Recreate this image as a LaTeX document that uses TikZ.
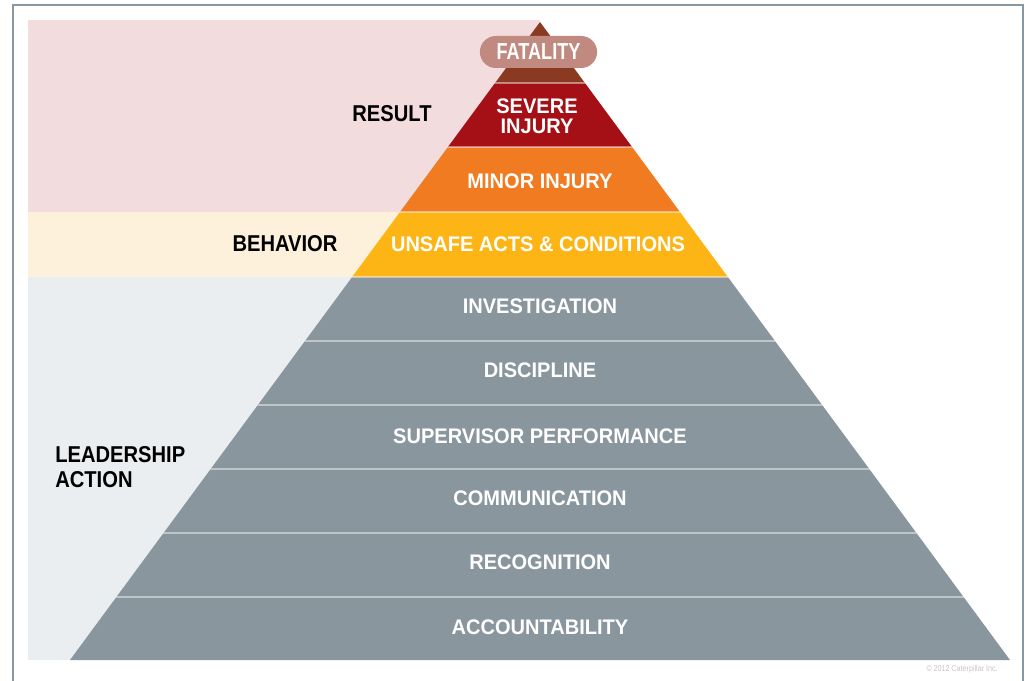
\documentclass[tikz,border=0pt]{standalone}
\usepackage{fontspec}
\setmainfont{Liberation Sans}
\newfontfamily\bandfont{Liberation Sans Bold}[FakeStretch=0.95]
\newfontfamily\sidefont{Liberation Sans Bold}[FakeStretch=0.88]
\newfontfamily\topfont{Liberation Sans Bold}[FakeStretch=0.78]
\newfontfamily\tinyfont{Liberation Sans}[FakeStretch=0.85]
\usetikzlibrary{positioning}
\definecolor{framegray}{RGB}{135,151,163}
\definecolor{bgpink}{RGB}{242,220,222}
\definecolor{bgcream}{RGB}{253,241,220}
\definecolor{bggray}{RGB}{235,238,240}
\definecolor{fatalbrown}{RGB}{139,58,34}
\definecolor{severered}{RGB}{165,15,22}
\definecolor{minororange}{RGB}{240,123,33}
\definecolor{unsafeyellow}{RGB}{253,181,21}
\definecolor{leadgray}{RGB}{138,150,158}
\definecolor{pillpink}{RGB}{192,138,128}
\tikzset{
    bandtext/.style = {inner sep=0pt, align=center, text=white, font=\bandfont\fontsize{15}{17}\selectfont},
    sidetext/.style = {inner sep=0pt, align=left, text=black, font=\sidefont\fontsize{16.3}{18}\selectfont},
    fatalpill/.style = {fill=pillpink, rounded corners=0.4cm, minimum width=2.93cm, minimum height=0.8cm, inner sep=0pt, text=white, font=\topfont\fontsize{16.5}{18}\selectfont},
    sepline/.style = {-, line width=1.4pt, white, opacity=0.45},
    frameline/.style = {-, line width=2.1pt, framegray}
}

\begin{document}
\begin{tikzpicture}[x=0.025cm, y=-0.025cm]
  \useasboundingbox (0,0) rectangle (1027,681);
  % frame
  \draw[frameline] (13,681) -- (13,5) -- (1023,5) -- (1023,681);
  % background bands
  \fill[bgpink]  (28,20)  rectangle (540,212);
  \fill[bgcream] (28,212) rectangle (540,277);
  \fill[bggray]  (28,277) rectangle (540,660);
  % pyramid
  \begin{scope}
    \clip (540,22) -- (1010,660) -- (70,660) -- cycle;
    \fill[fatalbrown]   (60,20)  rectangle (1020,83);
    \fill[severered]    (60,83)  rectangle (1020,147);
    \fill[minororange]  (60,147) rectangle (1020,212);
    \fill[unsafeyellow] (60,212) rectangle (1020,277);
    \fill[leadgray]     (60,277) rectangle (1020,662);
    \draw[sepline] (60,83) -- (1020,83);
    \draw[sepline] (60,147) -- (1020,147);
    \draw[sepline] (60,212) -- (1020,212);
    \draw[sepline] (60,277) -- (1020,277);
    \draw[sepline] (60,341) -- (1020,341);
    \draw[sepline] (60,405) -- (1020,405);
    \draw[sepline] (60,469) -- (1020,469);
    \draw[sepline] (60,533) -- (1020,533);
    \draw[sepline] (60,597) -- (1020,597);
  \end{scope}
  % band labels
  \node[fatalpill] (fatality) at (538.5,52) {FATALITY};
  \node[bandtext] (severe) at (537,116) {SEVERE\\[-3pt]INJURY};
  \node[bandtext] (minor) at (540,181) {MINOR INJURY};
  \node[bandtext] (unsafe) at (538,244) {UNSAFE ACTS \& CONDITIONS};
  \node[bandtext] (investigation) at (540,306) {INVESTIGATION};
  \node[bandtext] (discipline) at (540,370) {DISCIPLINE};
  \node[bandtext] (supervisor) at (540,436) {SUPERVISOR PERFORMANCE};
  \node[bandtext] (communication) at (540,498) {COMMUNICATION};
  \node[bandtext] (recognition) at (540,562) {RECOGNITION};
  \node[bandtext] (accountability) at (540,627) {ACCOUNTABILITY};
  % side labels
  \node[sidetext] (result) at (392,114) {RESULT};
  \node[sidetext] (behavior) at (285,244) {BEHAVIOR};
  \node[sidetext, anchor=west] (leadership) at (55,467) {LEADERSHIP\\ACTION};
  \node[inner sep=0pt, text=gray!45, font=\tinyfont\fontsize{6}{7}\selectfont] (copyright) at (962,669) {© 2012 Caterpillar Inc.};
\end{tikzpicture}
\end{document}
